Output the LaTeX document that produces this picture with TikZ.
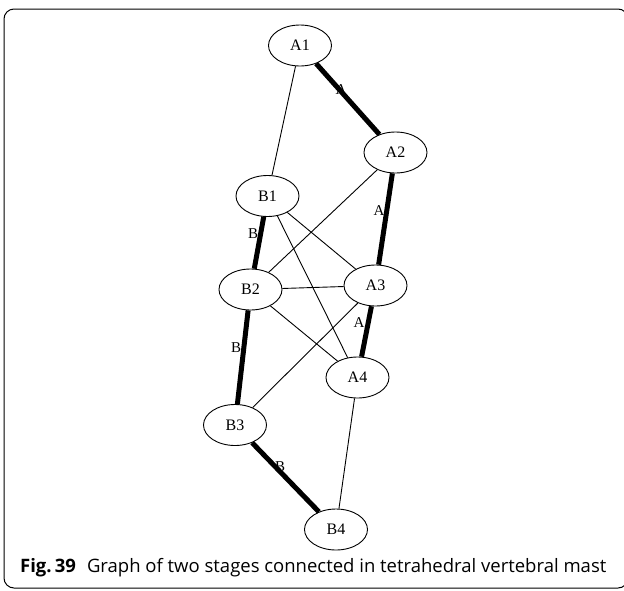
\documentclass[tikz,border=0pt]{standalone}
\usepackage{fontspec}
\setmainfont{Liberation Serif}
\newfontfamily\capfont{Open Sans}
\usetikzlibrary{shapes.geometric}
\begin{document}
\begin{tikzpicture}[x=1pt,y=-1pt,
  vnode/.style={draw,ellipse,line width=0.9pt,minimum width=63pt,minimum height=41pt,inner sep=0pt,font=\fontsize{16}{16}\selectfont},
  thin/.style={line width=0.9pt},
  heavy/.style={line width=5pt},
  elabel/.style={inner sep=0pt,font=\fontsize{15}{15}\selectfont}]
\useasboundingbox (0,0) rectangle (624,590);
\clip (0,0) rectangle (624,590);
\draw[line width=1pt,rounded corners=10pt] (4,9) rectangle (628,588);
% labels (under the lines)
\node[elabel] (lA12) at (341,90) {A};
\node[elabel] (lA23) at (379,211) {A};
\node[elabel] (lB12) at (253,234) {B};
\node[elabel] (lA34) at (359,323) {A};
\node[elabel] (lB23) at (236,348) {B};
\node[elabel] (lB34) at (280,467) {B};
% nodes
\node[vnode] (A1) at (300,45.5) {A1};
\node[vnode] (A2) at (395.5,152.5) {A2};
\node[vnode] (B1) at (267.5,196) {B1};
\node[vnode] (B2) at (250.5,289.5) {B2};
\node[vnode] (A3) at (375.5,285.5) {A3};
\node[vnode] (A4) at (357.5,377.5) {A4};
\node[vnode] (B3) at (235,425) {B3};
\node[vnode] (B4) at (336,529.5) {B4};
% edges
\draw[thin] (A1) -- (B1);
\draw[heavy] (A1) -- (A2);
\draw[heavy] (A2) -- (A3);
\draw[thin] (A2) -- (B2);
\draw[heavy] (B1) -- (B2);
\draw[thin] (B1) -- (A3);
\draw[thin] (B1) -- (A4);
\draw[thin] (B2) -- (A3);
\draw[thin] (B2) -- (A4);
\draw[heavy] (A3) -- (A4);
\draw[thin] (A3) -- (B3);
\draw[heavy] (B2) -- (B3);
\draw[heavy] (B3) -- (B4);
\draw[thin] (A4) -- (B4);
% caption
\node[anchor=base west,inner sep=0pt,font=\capfont\fontsize{18.5}{18.5}\selectfont] (cap) at (20,572)
  {\textbf{Fig.\,39}\hspace{0.6em}Graph of two stages connected in tetrahedral vertebral mast};
\end{tikzpicture}
\end{document}
